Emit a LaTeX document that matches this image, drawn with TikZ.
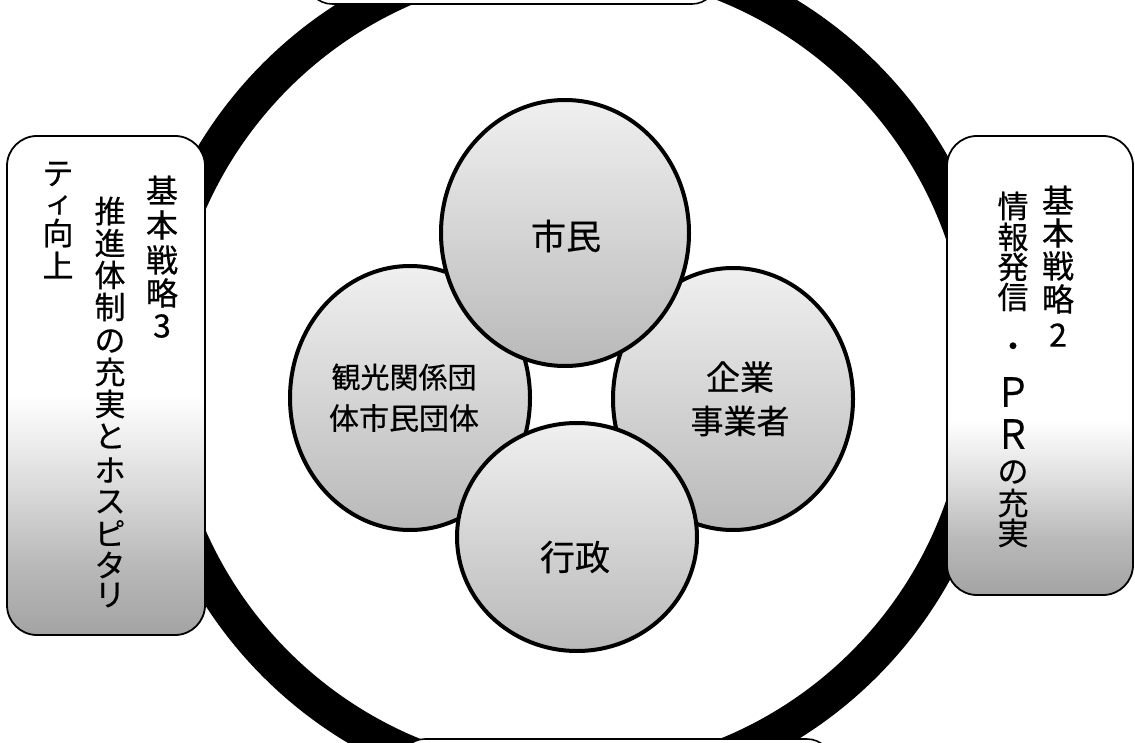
\documentclass[tikz,border=0pt]{standalone}
\usepackage{fontspec}
\usepackage{graphicx}
\usetikzlibrary{shapes.geometric}
\newfontfamily\jpfont[FakeBold=0.5]{Noto Sans CJK JP}
\newcommand\wideP{\scalebox{1.15}[1.3]{Ｐ}}
\newcommand\wideR{\scalebox{1.15}[1.3]{Ｒ}}
\pgfdeclareverticalshading{shadeL}{100bp}{color(0bp)=(gray!72); color(25bp)=(gray!72); color(32bp)=(gray!55); color(40bp)=(gray!28); color(49bp)=(white); color(100bp)=(white)}
\pgfdeclareverticalshading{shadeR}{100bp}{color(0bp)=(gray!72); color(25bp)=(gray!72); color(31bp)=(gray!55); color(37bp)=(gray!28); color(44bp)=(white); color(100bp)=(white)}
\tikzset{
  ring/.style={draw=black, line width=36pt},
  orb/.style={ellipse, draw=black, line width=4pt, top color=gray!12, bottom color=gray!55, inner sep=0pt, outer sep=0pt},
  sidebox/.style={rectangle, draw=black, line width=1.8pt, rounded corners=30pt, shade, inner sep=0pt, outer sep=0pt},
  plainbox/.style={rectangle, draw=black, line width=1.6pt, rounded corners=25pt, fill=white, inner sep=0pt, outer sep=0pt},
  vch/.style={inner sep=0pt, outer sep=0pt, font=\jpfont\fontsize{31}{31}\selectfont},
  vsmall/.style={inner sep=0pt, outer sep=0pt, font=\jpfont\fontsize{28}{28}\selectfont},
  vhead/.style={inner sep=0pt, outer sep=0pt, font=\jpfont\fontsize{32}{32}\selectfont},
  orbtext/.style={inner sep=0pt, outer sep=0pt, align=center}
}
\begin{document}
\begin{tikzpicture}[x=1pt,y=-1pt]
\useasboundingbox (0,0) rectangle (1135,743);
\fill[white] (0,0) rectangle (1135,743);
% big ring
\coordinate (ringc) at (570,370);
\draw[ring] (ringc) circle[radius=416pt];
% four circles
\node[orb, minimum width=240pt, minimum height=264pt] (kanko) at (410,398) {};
\node[orb, minimum width=240pt, minimum height=262pt] (kigyo) at (733,399) {};
\node[orb, minimum width=248pt, minimum height=266pt] (shimin) at (565,233) {};
\node[orb, minimum width=240pt, minimum height=228pt] (gyosei) at (577,537) {};
\node[orbtext, font=\jpfont\fontsize{35}{35}\selectfont] (shimin-t) at (566,236) {市民};
\node[orbtext, font=\jpfont\fontsize{29}{29}\selectfont] (kanko-t1) at (404,377) {観光関係団};
\node[orbtext, font=\jpfont\fontsize{30}{30}\selectfont] (kanko-t2) at (404,418) {体市民団体};
\node[orbtext, font=\jpfont\fontsize{34}{34}\selectfont] (kigyo-t1) at (740,377) {企業};
\node[orbtext, font=\jpfont\fontsize{33}{33}\selectfont] (kigyo-t2) at (740,421) {事業者};
\node[orbtext, font=\jpfont\fontsize{35}{35}\selectfont] (gyosei-t) at (575,557) {行政};
% boxes over the ring
\node[plainbox, minimum width=410pt, minimum height=64pt] (topbox) at (512,-28) {};
\node[plainbox, minimum width=432pt, minimum height=62pt] (botbox) at (616,770) {};
\node[sidebox, shading=shadeL, minimum width=198pt, minimum height=499pt] (leftbox) at (106,385.5) {};
\node[sidebox, shading=shadeR, minimum width=186pt, minimum height=459pt] (rightbox) at (1040,365.5) {};
% left box vertical text
\foreach \c/\y [count=\i] in {基/190,本/225,戦/260,略/293,3/326}
  \node[vhead] (L1-\i) at (162,\y) {\c};
\foreach \c/\y [count=\i] in {推/211,進/243,体/275,制/307,の/341,充/372,実/404,と/436,ホ/470,ス/502,ピ/533,タ/565,リ/595}
  \node[vch] (L2-\i) at (110,\y) {\c};
\node[vch] (L3-1) at (58,174) {テ};
\node[vsmall] (L3-2) at (59,205) {ィ};
\node[vch] (L3-3) at (58,233) {向};
\node[vch] (L3-4) at (58,265) {上};
% right box vertical text
\foreach \c/\y [count=\i] in {基/200,本/233,戦/266,略/299,2/335}
  \node[vhead] (R1-\i) at (1058,\y) {\c};
\foreach \c/\y [count=\i] in {情/206,報/237,発/267,信/297,・/350,\wideP/392,\wideR/434,の/472,充/503,実/533}
  \node[vch] (R2-\i) at (1013,\y) {\c};
\end{tikzpicture}
\end{document}
